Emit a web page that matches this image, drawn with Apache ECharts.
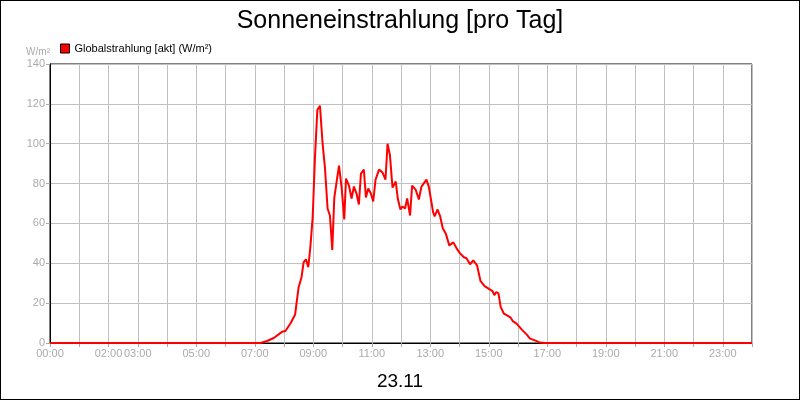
<!DOCTYPE html>
<html><head><meta charset="utf-8">
<script src="https://cdn.jsdelivr.net/npm/echarts@6/dist/echarts.min.js"></script>
<style>html,body{margin:0;padding:0;background:#fff}#c{width:798px;height:398px;border:1px solid #000}</style>
</head><body><div id="c"></div>
<script>
const hours = [0,7.2,7.42,7.65,7.93,8.05,8.23,8.38,8.5,8.6,8.67,8.75,8.83,8.9,8.98,9.06,9.14,9.23,9.32,9.4,9.49,9.57,9.65,9.72,9.88,9.97,10.06,10.12,10.22,10.31,10.39,10.48,10.56,10.63,10.73,10.8,10.88,10.97,11.05,11.13,11.25,11.37,11.47,11.54,11.62,11.71,11.82,11.89,11.98,12.05,12.14,12.21,12.31,12.38,12.5,12.61,12.7,12.87,12.95,13.1,13.15,13.25,13.34,13.43,13.53,13.65,13.79,13.9,14.02,14.15,14.24,14.36,14.47,14.6,14.72,14.86,15.02,15.13,15.19,15.25,15.33,15.41,15.52,15.61,15.75,15.82,15.96,16.13,16.3,16.41,16.58,16.75,16.92,24];
const values = [0,0,1,2.5,5.6,6,10,14.3,28,33,40.5,42,38,48,63,93.5,117,119,100,88,67.5,64,46.7,73,89,78,62,82.5,79,72.5,78.5,75,69.5,85,87,73,77.5,75,71,82,87,85.5,82,100,94.5,78,81,72.5,67,68.5,67.5,72.5,64,79,77,72,78.5,82,78.5,65.5,63.5,67,63.5,57.5,55,49,50.5,47.5,45,43,42.5,39.5,41.5,39,31,28.5,27,26,24,25.5,25,18,14.7,14,12.7,11,9.6,6.7,4.2,2.2,1.3,0.2,0,0];
const tickLabels = {0:'00:00',2:'02:00',3:'03:00',5:'05:00',7:'07:00',9:'09:00',11:'11:00',13:'13:00',15:'15:00',17:'17:00',19:'19:00',21:'21:00',23:'23:00'};
const chart = echarts.init(document.getElementById('c'));
const F = 'Liberation Sans';
chart.setOption({
  animation:false,
  textStyle:{fontFamily:F},
  title:[{text:'Sonneneinstrahlung [pro Tag]',left:'center',top:3,textStyle:{fontFamily:F,fontSize:25,fontWeight:'normal',color:'#000'}},
         {text:'23.11',left:'center',top:366,textStyle:{fontFamily:F,fontSize:19,fontWeight:'normal',color:'#000'}}],
  legend:{left:54,top:37,itemWidth:9,itemHeight:9,itemGap:4,icon:'rect',textStyle:{fontFamily:F,fontSize:11,color:'#000'},data:[{name:'Globalstrahlung [akt] (W/m²)',itemStyle:{color:'#ff0000',borderColor:'#000',borderWidth:1}}]},
  grid:{left:49,right:47,top:63,bottom:56,show:true,borderColor:'#000',borderWidth:1},
  xAxis:{type:'value',min:0,max:24,interval:1,
    axisLine:{lineStyle:{color:'#000'}},axisTick:{lineStyle:{color:'#aaa'},length:4},
    splitLine:{lineStyle:{color:'#c0c0c0'}},
    axisLabel:{color:'#aaa',fontSize:11,margin:5,formatter:v=>tickLabels[v]||''}},
  yAxis:{type:'value',min:0,max:140,interval:20,name:'W/m²',nameGap:7,
    nameTextStyle:{color:'#aaa',fontSize:10,align:'right',padding:[0,0,0,0]},
    axisLine:{show:true,lineStyle:{color:'#000'}},axisTick:{show:true,lineStyle:{color:'#aaa'},length:4},
    splitLine:{lineStyle:{color:'#c0c0c0'}},
    axisLabel:{color:'#aaa',fontSize:11,margin:5}},
  series:[{name:'Globalstrahlung [akt] (W/m²)',type:'line',showSymbol:false,
    data:hours.map((h,i)=>[h,values[i]]),lineStyle:{color:'#ff0000',width:2},itemStyle:{color:'#ff0000'}}]
});
</script></body></html>
